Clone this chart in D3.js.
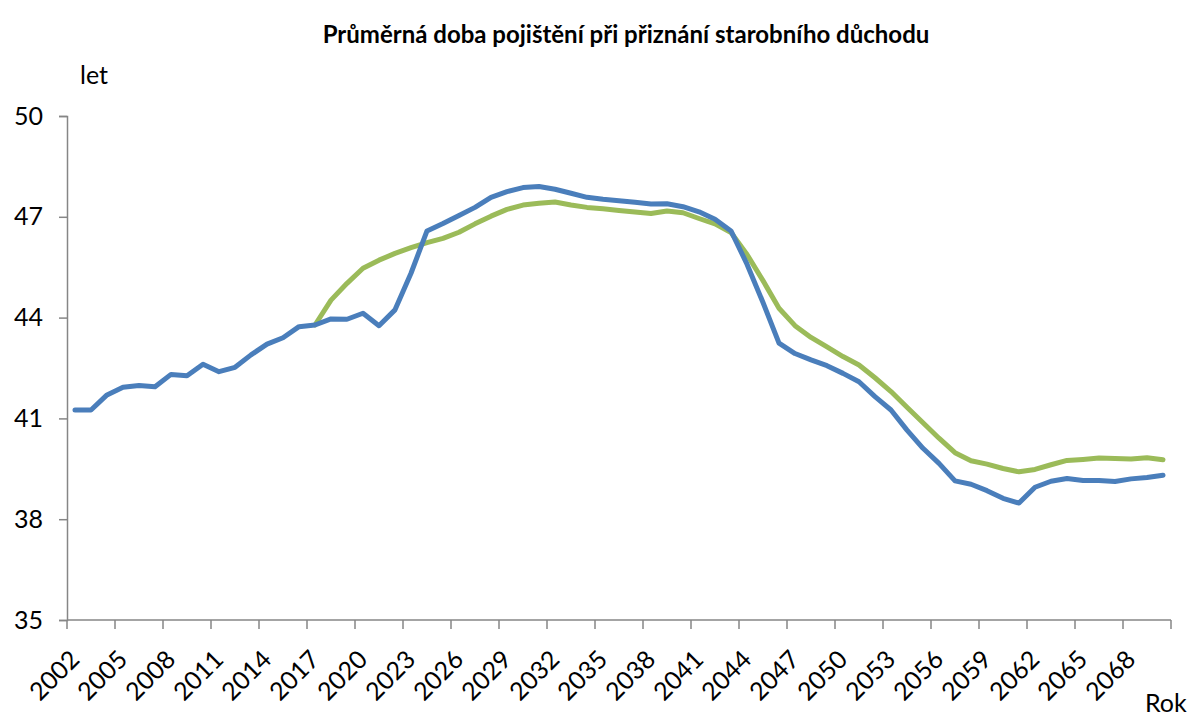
<!DOCTYPE html>
<html lang="cs">
<head>
<meta charset="UTF-8">
<title>Průměrná doba pojištění</title>
<script src="https://d3js.org/d3.v7.min.js"></script>
<style>
  body { margin: 0; background: #fff; }
  text { font-family: Lato, "Open Sans", sans-serif; fill: #000; }
</style>
</head>
<body>
<div id="chart"></div>
<script>
// categories
const years = d3.range(2002, 2071);
const yTicks = [35, 38, 41, 44, 47, 50];

// series values (years 2002-2070)
const blueValues = [
  41.25, 41.25, 41.70, 41.93, 41.98, 41.94, 42.31, 42.27, 42.61, 42.39,
  42.52, 42.89, 43.21, 43.40, 43.73, 43.78, 43.96, 43.95, 44.13, 43.76,
  44.23, 45.32, 46.58, 46.80, 47.04, 47.28, 47.58, 47.75, 47.87, 47.90,
  47.82, 47.70, 47.58, 47.52, 47.48, 47.43, 47.38, 47.39, 47.30, 47.15,
  46.93, 46.58, 45.59, 44.45, 43.24, 42.93, 42.74, 42.57, 42.34, 42.09,
  41.65, 41.25, 40.65, 40.11, 39.66, 39.14, 39.04, 38.85, 38.62, 38.48,
  38.95, 39.13, 39.21, 39.15, 39.15, 39.12, 39.20, 39.24, 39.31
];

// green series starts in 2017
const greenStart = 2017;
const greenValues = [
  43.78, 44.52, 45.02, 45.47, 45.71, 45.91, 46.08, 46.23, 46.36, 46.54,
  46.79, 47.02, 47.22, 47.35, 47.40, 47.44, 47.35, 47.28, 47.24, 47.19,
  47.14, 47.10, 47.17, 47.12, 46.95, 46.79, 46.53, 45.88, 45.10, 44.28,
  43.76, 43.41, 43.13, 42.84, 42.59, 42.21, 41.80, 41.33, 40.87, 40.41,
  39.98, 39.74, 39.64, 39.51, 39.41, 39.48, 39.62, 39.75, 39.78, 39.82,
  39.81, 39.79, 39.83, 39.77
];

const width = 1200;
const height = 725;
const axisColor = "#868686";
const labelSize = 25;

const svg = d3.select("#chart")
  .append("svg")
  .attr("width", width)
  .attr("height", height);

// category axis: each year is a band, ticks on band edges every 3 years
const x = d3.scaleBand()
  .domain(years)
  .range([67, 1171])
  .padding(0);

const y = d3.scaleLinear()
  .domain([35, 50])
  .range([620, 116]);

const xCenter = yr => x(yr) + x.bandwidth() / 2;

// y axis
const yAxis = svg.append("g")
  .attr("transform", "translate(67,0)")
  .call(d3.axisLeft(y).tickValues(yTicks).tickSize(8).tickPadding(16));
yAxis.select(".domain").attr("stroke", axisColor).attr("stroke-width", 1.5);
yAxis.selectAll(".tick line").attr("stroke", axisColor).attr("stroke-width", 1.5);
yAxis.selectAll(".tick text")
  .attr("font-size", labelSize)
  .attr("font-family", "Lato, sans-serif")
  .attr("fill", "#000");

// x axis line and tick marks
const tickYears = years.filter((d, i) => i % 3 === 0);
svg.append("line")
  .attr("x1", 67).attr("x2", 1171)
  .attr("y1", y(35)).attr("y2", y(35))
  .attr("stroke", axisColor).attr("stroke-width", 1.5);

svg.append("g").selectAll("line")
  .data(tickYears.concat([null]))
  .join("line")
  .attr("x1", d => d === null ? x.range()[1] : x(d))
  .attr("x2", d => d === null ? x.range()[1] : x(d))
  .attr("y1", y(35))
  .attr("y2", y(35) + 9)
  .attr("stroke", axisColor).attr("stroke-width", 1.5);

svg.append("g").selectAll("text")
  .data(tickYears)
  .join("text")
  .attr("transform", d => `translate(${xCenter(d) + 6},661) rotate(-45)`)
  .attr("text-anchor", "end")
  .attr("font-size", labelSize)
  .text(d => d);

// lines
const line = d3.line()
  .x(d => xCenter(d.year))
  .y(d => y(d.value));

const greenData = greenValues.map((v, i) => ({ year: greenStart + i, value: v }));
const blueData = blueValues.map((v, i) => ({ year: years[i], value: v }));

svg.append("path")
  .datum(greenData)
  .attr("d", line)
  .attr("fill", "none")
  .attr("stroke", "#9bbb59")
  .attr("stroke-width", 5)
  .attr("stroke-linejoin", "round")
  .attr("stroke-linecap", "round");

svg.append("path")
  .datum(blueData)
  .attr("d", line)
  .attr("fill", "none")
  .attr("stroke", "#4a7ebb")
  .attr("stroke-width", 5)
  .attr("stroke-linejoin", "round")
  .attr("stroke-linecap", "round");

// titles
svg.append("text")
  .attr("x", 626)
  .attr("y", 43)
  .attr("text-anchor", "middle")
  .attr("font-size", 24)
  .attr("font-weight", "bold")
  .text("Průměrná doba pojištění při přiznání starobního důchodu");

svg.append("text")
  .attr("x", 80)
  .attr("y", 84)
  .attr("font-size", labelSize)
  .text("let");

svg.append("text")
  .attr("x", 1145)
  .attr("y", 712)
  .attr("font-size", labelSize)
  .text("Rok");
</script>
</body>
</html>
